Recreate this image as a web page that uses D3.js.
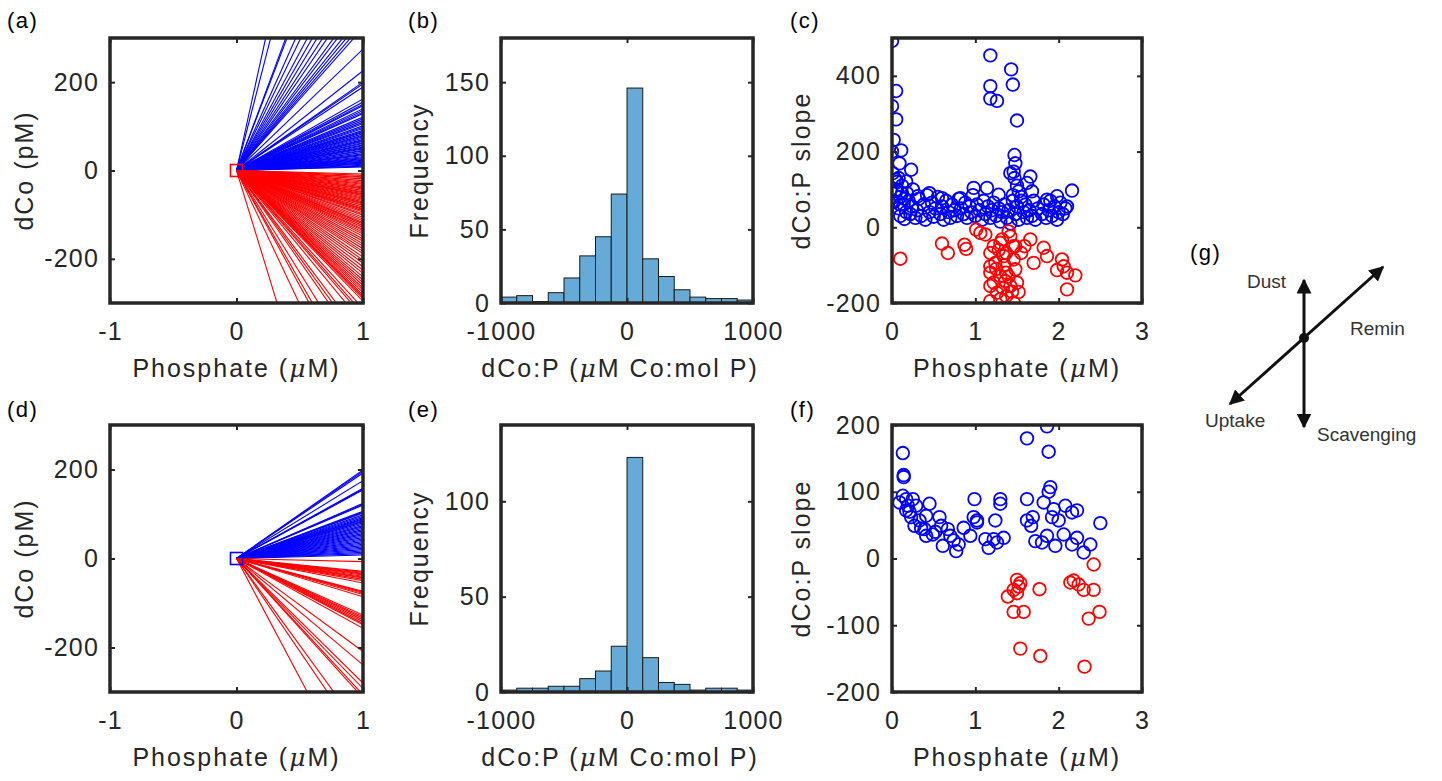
<!DOCTYPE html>
<html>
<head>
<meta charset="utf-8">
<script src="https://cdn.jsdelivr.net/npm/d3@7"></script>
<style>
body { margin: 0; background: #fff; }
text { font-family: "Liberation Sans", Arial, sans-serif; }
</style>
</head>
<body>
<script>
// ---- data ----
// (a) slopes of the fitted lines (pM per uM), drawn from origin to x = 1
var slopesA_blue = [1300, 1110, 770, 750, 640, 590, 535, 500, 470, 440, 417, 390, 375, 357, 345, 333, 323,
  275, 226, 200, 196, 189, 162, 155, 150, 147, 140, 136, 132, 129, 121, 117, 113, 109, 106, 101, 98, 95,
  91, 88, 86, 83, 80, 78, 76, 73, 70, 68, 66, 63, 61, 58, 56, 53, 51, 49, 46, 44, 41, 38, 36, 34, 31, 29,
  27, 25, 23, 21, 19, 17, 16, 14, 12, 10, 8];
var slopesA_red = [-8, -11, -14, -16, -19, -23, -26, -29, -31, -34, -37, -40, -42, -45, -48, -50, -53, -55,
  -57, -60, -63, -65, -68, -71, -74, -76, -79, -83, -86, -88, -91, -94, -98, -101, -106, -110, -114, -118,
  -121, -125, -129, -133, -136, -140, -144, -149, -155, -160, -166, -171, -177, -183, -188, -196, -203,
  -210, -218, -226, -233, -241, -248, -254, -260, -266, -271, -276, -282, -286, -290, -296, -312, -323,
  -331, -347, -380, -395, -411, -462, -500, -522, -606, -935];
// (d)
var slopesD_blue = [199, 196, 192, 175, 158, 156, 154, 124, 122, 120, 106, 104, 102, 98, 95, 92, 89, 87, 85,
  83, 80, 77, 74, 71, 68, 65, 62, 59, 56, 53, 50, 47, 44, 41, 38, 35, 32, 29, 26, 23, 20, 17, 14, 11, 8];
var slopesD_red = [-7, -29, -31, -33, -35, -37, -40, -42, -44, -47, -50, -55, -74, -76, -78, -81, -86, -127,
  -131, -134, -138, -142, -146, -149, -157, -209, -239, -280, -292, -306, -313, -390, -417, -536];

// (b),(e) histograms
var binEdges = [-1000, -875, -750, -625, -500, -375, -250, -125, 0, 125, 250, 375, 500, 625, 750, 875, 1000];
var countsB = [4, 5, 1, 7, 17, 32, 45, 74, 146, 30, 18, 9, 4, 3, 3, 2];
var countsE = [1, 2, 2, 3, 3, 7, 11, 24, 123, 18, 5, 4, 1, 2, 2, 1];

// (c) slope vs phosphate
var cBlue = [[0,492],[0.05,360],[0,320],[0.05,285],[0.02,231],[0,200],[0.11,203],[0.09,169],[0.23,152],
  [0.01,143],[0.05,125],[0.17,121],[0,68],[1.18,454],[1.18,373],[1.18,340],[1.26,334],[1.43,417],[1.45,377],
  [1.5,282],[1.47,191],[1.48,169],[1.46,147],[1.42,143],[1.66,134],[1.62,117],[1.68,95],[2.16,97],[2.1,55],
  [1.98,82],[1.86,73],[1.14,104],[1.28,86],[0.98,104],[0.82,77],[0.6,77],[0.45,90],[0.31,82],
  [1.47,130],[1.5,110],[1.52,95],[1.45,85],[1.55,70],[0.06,100],[0.08,130],[0.12,90],[0.15,75],[0.1,60],
  [0.02,66],[0.05,95],[0.06,120],[0.08,50],[0.1,30],[0.1,80],[0.12,110],[0.14,60],[0.15,22],[0.17,40],
  [0.18,90],[0.2,70],[0.22,35],[0.24,55],[0.25,100],[0.28,25],[0.3,45],[0.32,75],[0.35,30],[0.38,60],
  [0.4,20],[0.42,85],[0.45,40],[0.48,65],[0.5,28],[0.52,50],[0.55,80],[0.58,35],[0.6,55],[0.62,20],
  [0.65,70],[0.68,40],[0.7,25],[0.72,60],[0.75,45],[0.78,30],[0.8,75],[0.83,50],[0.86,35],[0.88,65],
  [0.9,25],[0.93,55],[0.95,40],[0.97,85],[1.0,30],[1.02,60],[1.05,45],[1.08,20],[1.1,70],[1.12,35],
  [1.15,55],[1.18,25],[1.2,45],[1.22,65],[1.25,30],[1.28,50],[1.3,15],[1.32,40],[1.35,60],[1.38,25],
  [1.4,45],[1.42,10],[1.45,70],[1.48,35],[1.5,55],[1.52,20],[1.55,80],[1.58,40],[1.6,60],[1.62,25],
  [1.65,45],[1.68,30],[1.7,70],[1.72,20],[1.75,50],[1.8,35],[1.82,60],[1.85,25],[1.88,45],[1.9,70],
  [1.92,30],[1.95,55],[1.98,20],[2.0,40],[2.02,65],[2.05,35],[2.08,50]];
var cRed = [[0.1,-83],[0.6,-43],[0.67,-68],[0.87,-46],[0.89,-57],[1.01,-6],[1.06,-15],[1.12,-19],[1.22,-50],
  [1.18,-68],[1.18,-103],[1.18,-120],[1.18,-155],[1.18,-195],[1.26,-173],[1.3,-190],[1.37,-182],[1.46,-199],
  [1.52,-171],[1.3,-41],[1.4,-11],[1.42,-24],[1.46,-50],[1.37,-68],[1.46,-85],[1.48,-111],[1.37,-120],
  [1.3,-129],[1.24,-94],[1.34,-76],[1.55,-68],[1.59,-50],[1.66,-32],[1.7,-94],[1.82,-54],[1.86,-76],
  [1.98,-113],[2.04,-85],[2.06,-103],[2.1,-120],[2.2,-127],[2.1,-164],[1.22,-146],[1.36,-142],[1.5,-146],
  [1.42,-155],[1.48,-50],[1.32,-32],[1.28,-60],[1.35,-100],[1.4,-130],[1.25,-110],[1.33,-160],[1.44,-170]];

// (f)
var fBlue = [[0.13,158],[0.14,125],[0.14,122],[0.13,94],[0.09,84],[0.17,89],[0.25,89],[0.19,79],[0.17,72],
  [0.29,79],[0.45,82],[0.23,62],[0.27,49],[0.33,57],[0.41,64],[0.39,44],[0.41,34],[0.49,36],[0.57,62],
  [0.59,49],[0.61,19],[0.67,44],[0.7,34],[0.77,11],[0.8,21],[0.86,46],[0.94,34],[0.99,89],[0.98,62],
  [1.02,54],[1.02,57],[1.12,29],[1.16,16],[1.22,29],[1.24,57],[1.3,89],[1.3,82],[1.34,31],[1.62,180],
  [1.86,198],[1.88,160],[1.62,89],[1.62,57],[1.69,62],[1.67,49],[1.72,26],[1.8,24],[1.82,84],[1.88,100],
  [1.9,107],[1.94,74],[1.92,62],[2.0,57],[1.96,19],[2.06,36],[2.08,79],[2.16,69],[2.22,72],[2.16,21],
  [2.22,31],[2.3,9],[2.38,21],[2.5,53],[1.86,34],[0.21,70],[0.35,45],[0.52,40],[0.74,27],[1.26,24]];
var fRed = [[2.42,-9],[1.5,-32],[1.54,-37],[1.46,-47],[1.52,-42],[1.39,-57],[1.5,-52],[1.46,-80],[1.58,-80],
  [1.77,-46],[1.54,-135],[1.78,-146],[2.18,-33],[2.24,-39],[2.3,-47],[2.42,-47],[2.36,-90],[2.49,-80],
  [2.31,-162],[2.14,-36]];

var panelLetters = ["(a)", "(b)", "(c)", "(d)", "(e)", "(f)", "(g)"];

// ---- drawing ----
var svg = d3.select("body").append("svg").attr("width", 1442).attr("height", 781);
var ink = "#262626";
var fmt = function (d) { return String(d); };   // plain hyphen minus, no thousands comma

function makeAxes(id, box, xdom, ydom) {
  var x = d3.scaleLinear().domain(xdom).range([box.x0, box.x1]);
  var y = d3.scaleLinear().domain(ydom).range([box.y1, box.y0]);
  svg.append("clipPath").attr("id", "clip" + id).append("rect")
    .attr("x", box.x0).attr("y", box.y0).attr("width", box.x1 - box.x0).attr("height", box.y1 - box.y0);
  var plot = svg.append("g").attr("clip-path", "url(#clip" + id + ")");
  return { x: x, y: y, box: box, plot: plot };
}

function finishAxes(ax, xticks, yticks, xlabel, ylabel, xlabelX) {
  var b = ax.box;
  var style = function (g) {
    g.select(".domain").remove();
    g.attr("font-size", 25).attr("font-family", null).attr("color", ink);
    g.selectAll("line").attr("stroke-width", 2);
    g.selectAll("text").attr("letter-spacing", 1.2);
  };
  svg.append("g").attr("transform", "translate(0," + b.y1 + ")")
    .call(d3.axisBottom(ax.x).tickValues(xticks).tickFormat(fmt).tickSizeInner(-5).tickSizeOuter(0).tickPadding(19))
    .call(style);
  svg.append("g").attr("transform", "translate(0," + b.y0 + ")")
    .call(d3.axisTop(ax.x).tickValues(xticks).tickSizeInner(-5).tickSizeOuter(0).tickFormat(""))
    .call(style);
  svg.append("g").attr("transform", "translate(" + b.x0 + ",0)")
    .call(d3.axisLeft(ax.y).tickValues(yticks).tickFormat(fmt).tickSizeInner(-5).tickSizeOuter(0).tickPadding(11))
    .call(style);
  svg.append("g").attr("transform", "translate(" + b.x1 + ",0)")
    .call(d3.axisRight(ax.y).tickValues(yticks).tickSizeInner(-5).tickSizeOuter(0).tickFormat(""))
    .call(style);
  svg.append("rect").attr("x", b.x0).attr("y", b.y0)
    .attr("width", b.x1 - b.x0).attr("height", b.y1 - b.y0)
    .attr("fill", "none").attr("stroke", ink).attr("stroke-width", 3.5);

  var xl = svg.append("text").attr("x", xlabelX || (b.x0 + b.x1) / 2).attr("y", b.y1 + 74)
    .attr("text-anchor", "middle").attr("font-size", 25).attr("letter-spacing", 2).attr("fill", ink);
  xlabel.forEach(function (p) {
    var t = xl.append("tspan").text(p[0]);
    if (p[1]) t.attr("font-style", "italic").attr("font-family", "DejaVu Serif");
  });
  svg.append("text")
    .attr("transform", "translate(" + ylabel.x + "," + (b.y0 + b.y1) / 2 + ") rotate(-90)")
    .attr("text-anchor", "middle").attr("font-size", 25).attr("letter-spacing", 2).attr("fill", ink)
    .text(ylabel.text);
}

var phosLabel = [["Phosphate ("], ["\u03bc", true], ["M)"]];
var ratioLabel = [["dCo:P ("], ["\u03bc", true], ["M Co:mol P)"]];

function fanPanel(id, box, blue, red, squareColor) {
  var ax = makeAxes(id, box, [-1, 1], [-300, 300]);
  var lines = blue.map(function (s) { return { s: s, c: "#0000ff" }; })
    .concat(red.map(function (s) { return { s: s, c: "#ff0000" }; }));
  ax.plot.selectAll("line.fan").data(lines).enter().append("line")
    .attr("x1", ax.x(0)).attr("y1", ax.y(0))
    .attr("x2", ax.x(1)).attr("y2", function (d) { return ax.y(d.s); })
    .attr("stroke", function (d) { return d.c; }).attr("stroke-width", 1.1);
  ax.plot.append("rect").attr("x", ax.x(0) - 6).attr("y", ax.y(0) - 6).attr("width", 12).attr("height", 12)
    .attr("fill", "none").attr("stroke", squareColor).attr("stroke-width", 1.6);
  finishAxes(ax, [-1, 0, 1], [-200, 0, 200], phosLabel, { x: 33, text: "dCo (pM)" });
}

function histPanel(id, box, counts, ymax, yticks) {
  var ax = makeAxes(id, box, [-1000, 1000], [0, ymax]);
  ax.plot.selectAll("rect.bar").data(counts).enter().append("rect")
    .attr("x", function (d, i) { return ax.x(binEdges[i]); })
    .attr("width", function (d, i) { return ax.x(binEdges[i + 1]) - ax.x(binEdges[i]); })
    .attr("y", function (d) { return ax.y(d); })
    .attr("height", function (d) { return ax.y(0) - ax.y(d); })
    .attr("fill", "#66aad7").attr("stroke", "#1a1a1a").attr("stroke-width", 1);
  finishAxes(ax, [-1000, 0, 1000], yticks, ratioLabel, { x: 428, text: "Frequency" }, 620);
}

function scatterPanel(id, box, blue, red, ydom, yticks) {
  var ax = makeAxes(id, box, [0, 3], ydom);
  var pts = blue.map(function (p) { return { p: p, c: "#0000ff" }; })
    .concat(red.map(function (p) { return { p: p, c: "#ff0000" }; }));
  ax.plot.selectAll("circle").data(pts).enter().append("circle")
    .attr("cx", function (d) { return ax.x(d.p[0]); })
    .attr("cy", function (d) { return ax.y(d.p[1]); })
    .attr("r", 6.3).attr("fill", "none")
    .attr("stroke", function (d) { return d.c; }).attr("stroke-width", 1.8);
  finishAxes(ax, [0, 1, 2, 3], yticks, phosLabel, { x: 810, text: "dCo:P slope" });
}

var colA = [110, 363], colB = [501, 753], colC = [892, 1142];
var rowTop = [38, 303], rowBot = [425, 692];
function bx(c, r) { return { x0: c[0], x1: c[1], y0: r[0], y1: r[1] }; }

fanPanel("a", bx(colA, rowTop), slopesA_blue, slopesA_red, "#ff0000");
histPanel("b", bx(colB, rowTop), countsB, 180, [0, 50, 100, 150]);
scatterPanel("c", bx(colC, rowTop), cBlue, cRed, [-200, 500], [-200, 0, 200, 400]);
fanPanel("d", bx(colA, rowBot), slopesD_blue, slopesD_red, "#0000ff");
histPanel("e", bx(colB, rowBot), countsE, 140, [0, 50, 100]);
scatterPanel("f", bx(colC, rowBot), fBlue, fRed, [-200, 200], [-200, -100, 0, 100, 200]);

// panel letters
var letterPos = [[7, 28], [408, 28], [790, 28], [7, 417], [408, 417], [790, 417], [1190, 260]];
svg.selectAll("text.letter").data(panelLetters).enter().append("text")
  .attr("x", function (d, i) { return letterPos[i][0]; })
  .attr("y", function (d, i) { return letterPos[i][1]; })
  .attr("font-size", 22).attr("letter-spacing", 1.5).attr("fill", "#000")
  .text(function (d) { return d; });

// (g) schematic
var defs = svg.append("defs");
defs.append("marker").attr("id", "arr").attr("viewBox", "0 0 10 10")
  .attr("refX", 9).attr("refY", 5).attr("markerWidth", 5).attr("markerHeight", 5)
  .attr("orient", "auto-start-reverse").attr("markerUnits", "strokeWidth")
  .append("path").attr("d", "M0,0 L10,5 L0,10 Z").attr("fill", "#111");
var g = svg.append("g");
g.append("line").attr("x1", 1304).attr("y1", 280).attr("x2", 1304).attr("y2", 427)
  .attr("stroke", "#111").attr("stroke-width", 3)
  .attr("marker-start", "url(#arr)").attr("marker-end", "url(#arr)");
g.append("line").attr("x1", 1230).attr("y1", 404).attr("x2", 1383).attr("y2", 267)
  .attr("stroke", "#111").attr("stroke-width", 3)
  .attr("marker-start", "url(#arr)").attr("marker-end", "url(#arr)");
g.append("circle").attr("cx", 1304).attr("cy", 338).attr("r", 5).attr("fill", "#111");
var schemLabels = [["Dust", 1247, 288], ["Remin", 1350, 335], ["Uptake", 1205, 427], ["Scavenging", 1317, 441]];
g.selectAll("text").data(schemLabels).enter().append("text")
  .attr("x", function (d) { return d[1]; }).attr("y", function (d) { return d[2]; })
  .attr("font-size", 19).attr("fill", "#333").text(function (d) { return d[0]; });
</script>
</body>
</html>
